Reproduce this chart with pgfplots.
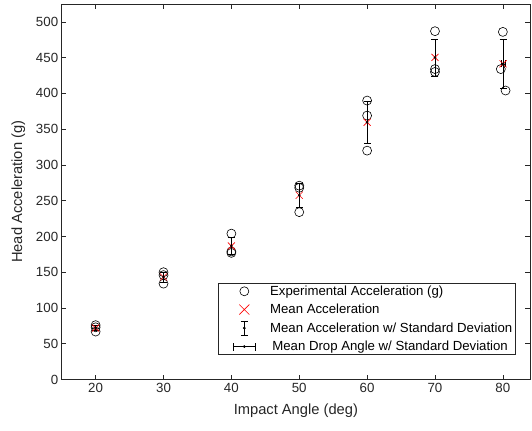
\documentclass[border=0pt]{standalone}
\usepackage{pgfplots}
\pgfplotsset{compat=1.18}
\usepackage{fontspec}
\setmainfont{Liberation Sans}
\definecolor{mgray}{rgb}{0.15,0.15,0.15}

\begin{document}
\begin{tikzpicture}
\begin{axis}[
  scale only axis, width=468.3bp, height=375.5bp,
  xmin=15, xmax=84, ymin=0, ymax=525,
  xtick={20,30,...,80}, ytick={0,50,...,500},
  tick align=inside, major tick length=4.7bp,
  xtick pos=both, ytick pos=both,
  axis line style={mgray, line width=0.5bp},
  tick style={mgray, line width=0.5bp},
  /pgf/number format/assume math mode=true,
  every tick label/.append style={font=\fontsize{13.3bp}{16bp}\selectfont, text=mgray},
  xlabel={Impact Angle (deg)}, ylabel={Head Acceleration (g)},
  label style={font=\fontsize{14.7bp}{17bp}\selectfont, text=mgray},
  xlabel style={yshift=-5bp},
  ylabel style={yshift=4bp},
  legend cell align=left,
  legend style={at={(0.968,0.257)}, anchor=north east, draw=mgray, line width=0.5bp,
    font=\fontsize{13.2bp}{15bp}\selectfont, text=black, inner sep=1bp, row sep=4.2bp,
    nodes={inner sep=1.5bp}},
]
% experimental accelerations
\addplot[only marks, mark=o, mark size=4.5bp, black, line width=0.6bp,
  legend image code/.code={
    \path (0,0) (49bp,0);
    \draw[black, line width=0.6bp] (25bp,0) circle (4.5bp);
  }] coordinates {
 (20,76) (20,73) (20,67)
 (30,150) (30,146) (30,134)
 (40,204) (40,179) (40,177)
 (50,271) (50,268) (50,234)
 (60,390) (60,369) (60,320)
 (70,487) (70,434) (70,430)
 (80,486) (79.7,434) (80.4,404)
};
\addlegendentry{Experimental Acceleration (g)}
% mean acceleration
\addplot[only marks, mark=x, mark size=5bp, red, line width=0.6bp,
  legend image code/.code={
    \path (0,0) (49bp,0);
    \draw[red, line width=0.6bp] (20bp,-5bp) -- (30bp,5bp) (20bp,5bp) -- (30bp,-5bp);
  }] coordinates {
 (20,72) (30,143.33) (40,186.67) (50,257.67) (60,359.67) (70,450.33) (80.03,441.33)
};
\addlegendentry{Mean Acceleration}
% mean acceleration with std (vertical)
\addplot[only marks, mark=*, mark size=1.1bp, black,
  legend image code/.code={
    \path (0,0) (49bp,0);
    \draw[black, line width=0.6bp] (25bp,-7bp) -- (25bp,7bp);
    \draw[black, line width=0.6bp] (21.5bp,-7bp) -- (28.5bp,-7bp);
    \draw[black, line width=0.6bp] (21.5bp,7bp) -- (28.5bp,7bp);
    \fill[black] (25bp,0) circle (1.1bp);
  },
  error bars/.cd, y dir=both, y explicit, error mark=-,
  error bar style={line width=0.6bp, black},
  error mark options={rotate=90, mark size=3.5bp, line width=0.6bp, black}]
  coordinates {
 (20,72) +- (0,3.74)
 (30,143.33) +- (0,6.80)
 (40,186.67) +- (0,12.28)
 (50,257.67) +- (0,16.78)
 (60,359.67) +- (0,29.33)
 (70,450.33) +- (0,25.98)
 (80.03,441.33) +- (0,33.88)
};
\addlegendentry{Mean Acceleration w/ Standard Deviation}
% mean drop angle with std (horizontal)
\addplot[only marks, mark=*, mark size=1.1bp, black,
  legend image code/.code={
    \path (0,0) (49bp,0);
    \draw[black, line width=0.6bp] (14bp,0) -- (36bp,0);
    \draw[black, line width=0.6bp] (14bp,-4bp) -- (14bp,4bp);
    \draw[black, line width=0.6bp] (36bp,-4bp) -- (36bp,4bp);
    \fill[black] (25bp,0) circle (1.1bp);
  },
  error bars/.cd, x dir=both, x explicit, error mark=-,
  error bar style={line width=0.6bp, black},
  error mark options={rotate=90, mark size=3.5bp, line width=0.6bp, black}]
  coordinates {
 (80.03,441.33) +- (0.29,0)
};
\addlegendentry{\,Mean Drop Angle w/ Standard Deviation}
\coordinate (ll) at (rel axis cs:0,0);
\coordinate (ur) at (rel axis cs:1,1);
\end{axis}
\useasboundingbox ([shift={(-61.7bp,-50.5bp)}]ll) rectangle ([shift={(2bp,4bp)}]ur);
\end{tikzpicture}
\end{document}
